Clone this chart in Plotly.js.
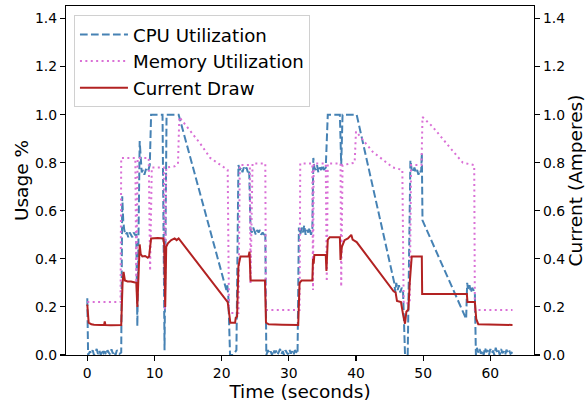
<!DOCTYPE html>
<html>
<head>
<meta charset="utf-8">
<script src="https://cdn.plot.ly/plotly-3.0.1.min.js"></script>
<style>html,body{margin:0;padding:0;background:#fff;}#chart{width:586px;height:404px;}</style>
</head>
<body>
<div id="chart"></div>
<script>
var seriesNames = ["CPU Utilization", "Memory Utilization", "Current Draw"];
var xTicks = [0, 10, 20, 30, 40, 50, 60];
var yTicks = [0.0, 0.2, 0.4, 0.6, 0.8, 1.0, 1.2, 1.4];
var yTickLabels = ["0.0", "0.2", "0.4", "0.6", "0.8", "1.0", "1.2", "1.4"];

var cpuTime = [0,0.12,0.4,0.6,0.8,1.0,1.2,1.4,1.6,1.8,2.0,2.2,2.4,2.6,2.8,3.0,3.2,3.4,3.6,3.8,4.0,4.2,4.4,4.6,4.8,5.05,
  5.2,5.35,5.5,5.7,5.9,6.1,6.3,6.5,6.7,6.9,7.1,7.3,7.45,7.8,7.95,8.1,8.3,8.5,8.7,8.9,9.1,9.3,9.5,11.2,11.5,11.8,13.6,
  20.7,20.85,21.0,21.25,21.7,22.2,22.5,22.7,22.9,23.1,23.3,23.5,23.7,23.9,24.1,24.3,24.5,24.7,24.9,25.1,25.3,25.5,25.7,25.9,26.1,26.3,26.5,
  26.65,26.9,27.1,27.3,27.5,27.7,27.9,28.1,28.3,28.5,28.7,28.9,29.1,29.3,29.5,29.7,29.9,30.1,30.3,30.5,30.7,30.9,31.1,31.3,
  31.5,31.7,31.9,32.1,32.3,32.5,32.7,32.9,33.1,33.3,33.5,33.65,33.8,34.0,34.2,34.4,34.6,34.8,35.0,35.2,35.5,35.8,37.6,37.8,38.0,40.1,
  45.7,45.85,46.0,46.2,46.4,46.6,46.8,47.0,47.3,47.7,48.1,48.3,48.5,48.7,48.9,49.1,49.3,49.5,49.7,49.8,49.9,
  56.4,56.55,56.7,56.9,57.1,57.3,57.5,57.7,57.85,58.0,58.2,58.4,58.6,58.8,59.0,59.2,59.4,59.6,59.8,60.0,60.2,60.4,60.6,60.8,61.0,61.2,61.4,61.6,61.8,62.0,62.2,62.4,62.6,62.8,63.0,63.3];
var cpuUsage = [0.236,0.0,0.015,0.005,0.02,0.0,0.012,0.025,0.004,0.018,0.0,0.022,0.008,0.015,0.0,0.02,0.01,0.003,0.024,0.006,0.016,0.0,0.02,0.012,0.005,0.01,
  0.66,0.56,0.52,0.50,0.51,0.49,0.51,0.50,0.49,0.51,0.50,0.50,0.12,0.89,0.79,0.76,0.77,0.75,0.77,0.78,0.77,0.79,1.0,1.0,0.02,1.0,1.0,
  0.27,0.29,0.24,0.0,0.0,0.02,0.79,0.77,0.78,0.76,0.78,0.77,0.78,0.76,0.77,0.52,0.51,0.53,0.51,0.50,0.52,0.51,0.52,0.50,0.51,0.50,0.51,
  0.0,0.02,0.005,0.015,0.0,0.022,0.008,0.018,0.0,0.012,0.025,0.004,0.016,0.0,0.02,0.01,0.003,0.022,0.006,0.015,0.0,0.02,0.01,0.005,
  0.53,0.50,0.53,0.51,0.54,0.50,0.52,0.51,0.53,0.50,0.52,0.82,0.78,0.77,0.79,0.76,0.78,0.77,0.79,0.77,0.78,1.0,1.0,0.79,1.0,1.0,
  0.30,0.26,0.30,0.27,0.29,0.26,0.28,0.27,0.0,0.0,0.81,0.77,0.76,0.78,0.76,0.77,0.75,0.77,0.76,0.84,0.56,
  0.15,0.30,0.27,0.29,0.26,0.28,0.27,0.25,0.0,0.03,0.01,0.025,0.005,0.02,0.0,0.03,0.012,0.02,0.0,0.025,0.008,0.018,0.0,0.03,0.01,0.02,0.0,0.025,0.008,0.015,0.0,0.022,0.01,0.02,0.005,0.012];

var memTime = [0,4.95,5.05,7.15,7.3,7.5,9.15,9.35,9.6,11.4,11.55,11.75,13.0,13.5,13.7,16.8,18.3,20.9,21.1,22.5,22.7,24.2,24.3,24.6,26.5,26.6,
  31.6,31.7,33.5,33.6,33.7,35.5,35.65,35.8,37.7,37.8,38.0,39.8,40.0,42.5,45.5,46.9,47.1,48.0,48.2,49.75,49.9,51.4,53.9,55.9,57.6,57.7,63.3];
var memUsage = [0.22,0.22,0.82,0.82,0.30,0.82,0.82,0.35,0.78,0.78,0.19,0.78,0.785,0.795,0.99,0.88,0.82,0.77,0.175,0.175,0.79,0.79,0.30,0.797,0.797,0.187,
  0.187,0.797,0.797,0.27,0.797,0.797,0.305,0.797,0.797,0.284,0.79,0.80,0.93,0.845,0.78,0.77,0.215,0.215,0.79,0.79,0.99,0.95,0.866,0.80,0.79,0.187,0.187];

var curTime = [0,0.2,0.6,1.0,2.0,2.5,2.6,2.7,3.5,4.5,5.05,5.25,5.4,5.6,6.0,6.5,7.0,7.3,7.45,7.6,7.8,7.95,8.2,8.6,9.0,9.2,9.5,10.5,11.3,11.45,11.6,11.75,12.0,12.5,13.0,13.3,13.6,
  20.9,21.2,21.3,22.0,22.1,22.3,22.5,22.8,23.5,24.0,24.15,24.3,25.0,26.0,26.45,26.6,27.0,29.0,31.4,31.6,31.9,33.5,33.6,33.7,33.8,35.5,35.6,35.8,36.1,37.6,37.7,37.9,38.3,38.8,39.3,39.5,40.1,
  45.6,45.9,46.1,46.7,47.0,47.3,47.5,47.8,48.0,48.3,49.8,49.85,56.5,56.6,57.7,57.9,58.2,63.3];
var curAmps = [0.21,0.135,0.128,0.126,0.125,0.125,0.14,0.125,0.124,0.125,0.125,0.30,0.346,0.31,0.306,0.306,0.304,0.30,0.20,0.30,0.46,0.42,0.41,0.412,0.405,0.41,0.485,0.487,0.485,0.46,0.20,0.45,0.465,0.478,0.485,0.478,0.485,
  0.22,0.14,0.134,0.134,0.155,0.16,0.37,0.41,0.41,0.41,0.43,0.31,0.31,0.31,0.31,0.135,0.128,0.126,0.125,0.30,0.31,0.31,0.40,0.38,0.416,0.416,0.35,0.48,0.49,0.49,0.395,0.45,0.478,0.485,0.50,0.48,0.47,
  0.265,0.26,0.225,0.22,0.17,0.13,0.18,0.19,0.30,0.41,0.41,0.254,0.254,0.22,0.22,0.15,0.128,0.125];

var FONT = "DejaVu Sans, Verdana, sans-serif";
var traces = [
  {x: cpuTime, y: cpuUsage, name: seriesNames[0], type: "scatter", mode: "lines", yaxis: "y",
   line: {color: "#4682B4", width: 2, dash: "7.7px,3.3px"}},
  {x: memTime, y: memUsage, name: seriesNames[1], type: "scatter", mode: "lines", yaxis: "y",
   line: {color: "#DA70D6", width: 2, dash: "2px,3.4px"}},
  {x: curTime, y: curAmps, name: seriesNames[2], type: "scatter", mode: "lines", yaxis: "y2",
   line: {color: "#B22222", width: 2}}
];
var axisCommon = {
  showgrid: false, zeroline: false, showline: true, linecolor: "#000", linewidth: 1.1,
  ticks: "outside", ticklen: 5, tickwidth: 1.1, tickcolor: "#000",
  tickfont: {family: FONT, size: 13.9, color: "#000"}
};
var TITLE_SIZE = 18.5;
var layout = {
  width: 586, height: 404,
  margin: {l: 66, r: 52, t: 6, b: 49, pad: 0},
  paper_bgcolor: "#fff", plot_bgcolor: "#fff",
  font: {family: FONT, color: "#000"},
  showlegend: true,
  legend: {x: 0.017, y: 0.974, xanchor: "left", yanchor: "top", itemwidth: 48,
           font: {family: FONT, size: 18.2, color: "#000"},
           bgcolor: "rgba(255,255,255,0.8)", bordercolor: "#d0d0d0", borderwidth: 1},
  xaxis: Object.assign({}, axisCommon, {
    range: [-3.17, 66.5], tickmode: "array", tickvals: xTicks, mirror: true,
    title: {text: "Time (seconds)", font: {family: FONT, size: TITLE_SIZE, color: "#000"}, standoff: 2}
  }),
  yaxis: Object.assign({}, axisCommon, {
    range: [0, 1.452], tickmode: "array", tickvals: yTicks, ticktext: yTickLabels,
    title: {text: "Usage %", font: {family: FONT, size: TITLE_SIZE, color: "#000"}, standoff: 1}
  }),
  yaxis2: Object.assign({}, axisCommon, {
    range: [0, 1.452], tickmode: "array", tickvals: yTicks, ticktext: yTickLabels,
    overlaying: "y", side: "right", anchor: "x",
    title: {text: "Current (Amperes)", font: {family: FONT, size: TITLE_SIZE, color: "#000"}, standoff: 4}
  })
};
Plotly.newPlot("chart", traces, layout, {staticPlot: true, displayModeBar: false});
</script>
</body>
</html>
